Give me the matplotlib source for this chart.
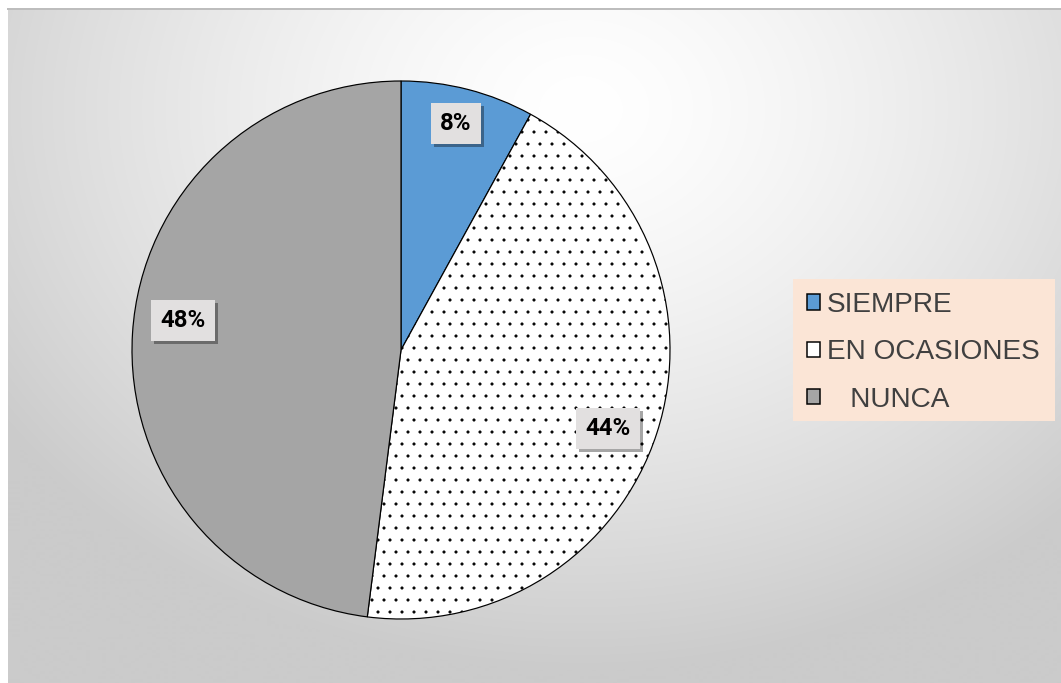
import numpy as np
import matplotlib
matplotlib.use("Agg")
import matplotlib.pyplot as plt
from matplotlib.patches import Patch, Rectangle
import matplotlib.patheffects as pe

# ---- data ----
categories = ["SIEMPRE", "EN OCASIONES", "NUNCA"]
legend_labels = ["SIEMPRE", "EN OCASIONES", "   NUNCA"]
values = [8, 44, 48]

# ---- style ----
colors = ["#5B9BD5", "#FFFFFF", "#A5A5A5"]
hatches = [None, ".", None]
label_offsets_px = [(0, -13), (-3, 10), (2, -16)]  # pixel tweaks for % boxes

plt.rcParams["hatch.linewidth"] = 0.6

W, H = 1061, 683
DPI = 72
fig = plt.figure(figsize=((W + 0.01) / DPI, (H + 0.01) / DPI), dpi=DPI)
fig.patch.set_facecolor("white")

def fx(x):
    return x / W

def fy(y):
    return 1 - y / H

# background panel with radial gradient
px0, py0 = 8, 9
bg = fig.add_axes([fx(px0), 0, 1 - fx(px0), fy(py0)])
bg.set_axis_off()
gw, gh = W - px0, H - py0
xx, yy = np.meshgrid(np.arange(gw) + px0, np.arange(gh) + py0)
cx, cy = 580, 110
d = np.sqrt(((xx - cx) / 700.0) ** 2 + ((yy - cy) / 560.0) ** 2)
d = np.clip(d, 0, 1)
val = (255 - 52 * d ** 1.4) / 255.0
img = np.dstack([val, val, val])
bg.imshow(img, extent=[0, 1, 0, 1], aspect="auto", interpolation="bilinear", zorder=0)
bg.set_xlim(0, 1)
bg.set_ylim(0, 1)
# top border line
fig.add_artist(plt.Line2D([fx(px0), 1], [fy(py0), fy(py0)], transform=fig.transFigure,
                          color="#BDBDBD", lw=2, zorder=1))

# pie
cxp, cyp, r = 401, 350, 269
ax = fig.add_axes([fx(cxp - r), fy(cyp + r), 2 * r / W, 2 * r / H])
ax.set_axis_off()
wedges, texts, autotexts = ax.pie(
    values, colors=colors, startangle=90, counterclock=False, radius=1,
    autopct="%1.0f%%", pctdistance=0.82,
    wedgeprops=dict(edgecolor="black", linewidth=1.2),
    textprops=dict(fontsize=24, fontweight="bold", family="Roboto", color="black"),
)
for w, h in zip(wedges, hatches):
    if h:
        w.set_hatch(h)
ax.set_xlim(-1.0, 1.0)
ax.set_ylim(-1.0, 1.0)
ax.set_aspect("equal")

for t, (ox, oy) in zip(autotexts, label_offsets_px):
    x, y = t.get_position()
    t.set_position((x + ox / r, y - oy / r))
    t.set_bbox(dict(boxstyle="square,pad=0.38", facecolor="#E2E0E0", edgecolor="none"))
    t.get_bbox_patch().set_path_effects([
        pe.SimplePatchShadow(offset=(3, -3), shadow_rgbFace="black", alpha=0.35),
        pe.Normal(),
    ])
    t.set_zorder(5)

# legend
fig.add_artist(Rectangle((fx(793), fy(421)), (1055 - 793) / W, (421 - 279) / H,
                         transform=fig.transFigure, facecolor="#FBE5D6",
                         edgecolor="none", zorder=2))
handles = [Patch(facecolor=c, edgecolor="black", linewidth=1.5) for c in colors]
leg = fig.legend(handles, legend_labels, loc="upper left",
                 bbox_to_anchor=(fx(807), fy(292)), frameon=False,
                 prop=dict(family="Liberation Sans", size=28),
                 handlelength=0.47, handleheight=0.47, handletextpad=0.25,
                 labelspacing=0.76, borderpad=0, borderaxespad=0,
                 labelcolor="#404040")
leg.set_zorder(3)

fig.savefig("out.png", dpi=DPI)
